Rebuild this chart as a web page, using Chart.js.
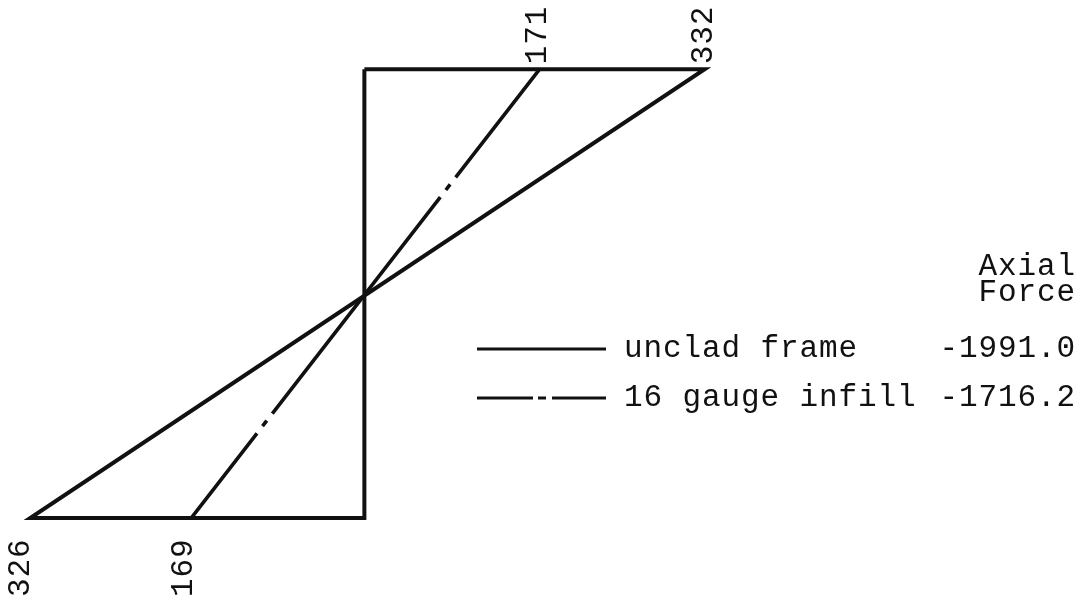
<!DOCTYPE html>
<html>
<head>
<meta charset="utf-8">
<script src="https://cdn.jsdelivr.net/npm/chart.js@4.4.1/dist/chart.umd.min.js"></script>
<style>
  html, body { margin: 0; padding: 0; background: #ffffff; }
  #wrap { width: 1087px; height: 598px; position: relative; }
</style>
</head>
<body>
<div id="wrap"><canvas id="c"></canvas></div>
<script>
// ---- data (bending moment diagram of a member) ----
const memberEnds = [1, 0];                 // member position: top end, bottom end
const uncladMoments = [332, -326];         // unclad frame: moment at top / bottom end
const infillMoments = [171, -169];         // 16 gauge infill: moment at top / bottom end
const topTickLabels = ['171', '332'];
const topTickValues = [171, 332];
const bottomTickLabels = ['326', '169'];
const bottomTickValues = [-326, -169];
const seriesNames = ['unclad frame', '16 gauge infill'];
const axialForces = ['-1991.0', '-1716.2'];
const legendTitle = ['Axial', 'Force'];

const FONT = '"Liberation Mono", "DejaVu Sans Mono", monospace';
const INK = '#111111';

// unclad diagram: closed outline member -> top moment -> bottom moment -> member
const uncladPts = [
  { x: 0, y: memberEnds[0] },
  { x: uncladMoments[0], y: memberEnds[0] },
  { x: uncladMoments[1], y: memberEnds[1] },
  { x: 0, y: memberEnds[1] },
  { x: 0, y: memberEnds[0] }
];
const infillPts = [
  { x: infillMoments[0], y: memberEnds[0] },
  { x: infillMoments[1], y: memberEnds[1] }
];

const annotate = {
  id: 'annotate',
  afterDatasetsDraw(chart) {
    const ctx = chart.ctx;
    const xs = chart.scales.x, ys = chart.scales.y;
    const yTop = ys.getPixelForValue(memberEnds[0]);
    const yBot = ys.getPixelForValue(memberEnds[1]);
    ctx.save();
    ctx.fillStyle = INK;
    ctx.font = '31px ' + FONT;
    ctx.letterSpacing = '0.9px';
    ctx.textBaseline = 'middle';
    ctx.textAlign = 'left';
    // rotated end labels
    const topShift = [-2, -1];
    topTickValues.forEach((v, i) => {
      const px = xs.getPixelForValue(v);
      ctx.save();
      ctx.translate(px + topShift[i], yTop - 5);
      ctx.rotate(-Math.PI / 2);
      ctx.fillText(topTickLabels[i], 0, 0);
      ctx.restore();
    });
    const botShift = [-9, -7];
    bottomTickValues.forEach((v, i) => {
      const px = xs.getPixelForValue(v);
      ctx.save();
      ctx.translate(px + botShift[i], yBot + 79);
      ctx.rotate(-Math.PI / 2);
      ctx.fillText(bottomTickLabels[i], 0, 0);
      ctx.restore();
    });
    // legend
    const rightX = 1076;
    ctx.textAlign = 'right';
    ctx.fillText(legendTitle[0], rightX, 267);
    ctx.fillText(legendTitle[1], rightX, 293);
    const rows = [349, 398];
    chart.data.datasets.forEach((ds, i) => {
      const y = rows[i];
      ctx.save();
      ctx.strokeStyle = ds.borderColor;
      ctx.lineWidth = 3.2;
      ctx.setLineDash(i === 0 ? [] : [56, 5, 8, 6, 60]);
      ctx.beginPath();
      ctx.moveTo(477, y);
      ctx.lineTo(606, y);
      ctx.stroke();
      ctx.restore();
      ctx.textAlign = 'left';
      ctx.fillText(seriesNames[i], 624, y);
      ctx.textAlign = 'right';
      ctx.fillText(axialForces[i], rightX, y);
    });
    ctx.restore();
  }
};

new Chart(document.getElementById('c'), {
  type: 'scatter',
  data: {
    datasets: [
      {
        label: seriesNames[0],
        data: uncladPts,
        showLine: true,
        borderColor: INK,
        borderWidth: 4,
        pointRadius: 0,
        tension: 0,
        borderJoinStyle: 'miter',
        fill: false
      },
      {
        label: seriesNames[1],
        data: infillPts,
        showLine: true,
        borderColor: INK,
        borderWidth: 3.6,
        borderDash: [274, 9, 7, 9],
        borderDashOffset: 137,
        pointRadius: 0,
        tension: 0,
        fill: false
      }
    ]
  },
  options: {
    responsive: true,
    maintainAspectRatio: false,
    animation: false,
    layout: { padding: 0 },
    plugins: { legend: { display: false }, tooltip: { enabled: false }, title: { display: false } },
    scales: {
      x: { type: 'linear', display: false, min: -355.5, max: 705 },
      y: { type: 'linear', display: false, min: -0.178, max: 1.154 }
    }
  },
  plugins: [annotate]
});
</script>
</body>
</html>
